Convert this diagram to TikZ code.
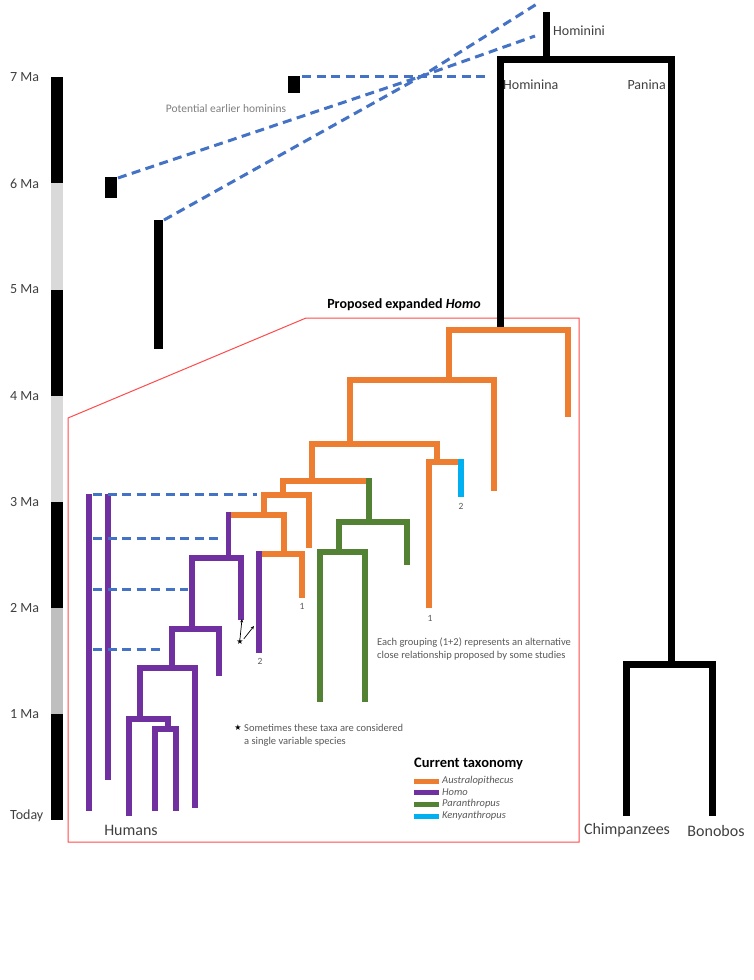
\documentclass[tikz,border=0pt]{standalone}
\usepackage{fontspec}
\setmainfont{Carlito}
\newfontfamily\symfont{DejaVu Sans}
\usetikzlibrary{arrows.meta}

\definecolor{australo}{HTML}{ED7D31}
\definecolor{homo}{HTML}{7030A0}
\definecolor{parantr}{HTML}{548235}
\definecolor{kenyan}{HTML}{00B0F0}
\definecolor{linkblue}{HTML}{4472C4}
\definecolor{boxred}{HTML}{FF4B4B}
\definecolor{textgray}{HTML}{404040}
\definecolor{notegray}{HTML}{595959}
\definecolor{lightbar}{HTML}{D9D9D9}
\definecolor{midbar}{HTML}{BFBFBF}

\begin{document}
\begin{tikzpicture}[x=1pt, y=-1pt,
    every node/.style={inner sep=0pt, text=textgray},
    tick/.style={anchor=west, font=\fontsize{14}{16}\selectfont},
    clade/.style={font=\fontsize{14}{16}\selectfont},
    tip/.style={font=\fontsize{16}{18}\selectfont},
    note/.style={font=\fontsize{10.5}{12.5}\selectfont, text=notegray, align=left},
    num/.style={font=\fontsize{9.5}{10}\selectfont, text=notegray},
    ape/.style={line width=7pt, line join=miter},
    branch/.style={line width=5.5pt, line join=miter},
    link/.style={draw=linkblue, line width=3pt, dash pattern=on 9pt off 5.5pt},
  ]
  \useasboundingbox[fill=white] (0,0) rectangle (754,980);

  % Шкала времени
  \foreach \t/\c in {7/black,6/lightbar,5/black,4/lightbar,3/black,2/midbar,1/black}
    \fill[\c] (51,{820-106.1*\t}) rectangle (63,{820-106.1*(\t-1)});
  \foreach \t in {1,...,7}
    \node[tick] (ma\t) at (10,{820-106.1*\t}) {\t\ Ma};
  \node[tick] (today) at (10,816) {Today};

  % Возможные ранние гоминины
  \fill (288,76) rectangle (300,93);
  \fill (105,177) rectangle (117,198);
  \fill (154,220) rectangle (163,349);
  \node[note, text=gray, font=\fontsize{11.5}{13}\selectfont] (early) at (226,109) {Potential earlier hominins};
  \coordinate (conv) at (422,76);
  \draw[link] (302,76) -- (conv) -- (490,76);
  \draw[link] (118,178) -- (conv) -- (535,36);
  \draw[link] (164,220) -- (conv) -- (540,2);

  % Рамка
  \draw[boxred, line width=1pt] (68,418) -- (306,318) -- (579,318) -- (579,842) -- (68,842) -- cycle;
  \node[font=\bfseries\fontsize{14}{16}\selectfont, text=black] (homo) at (404,305) {Proposed expanded \textit{Homo}};

  % Hominini
  \draw[ape] (546,12) -- (546,59);
  \draw[ape] (500,327) -- (500,59) -- (671,59) -- (671,664);
  \draw[ape] (626,816) -- (626,664) -- (712,664) -- (712,816);
  \node[clade, anchor=west] (hominini) at (553,31) {Hominini};
  \node[clade, anchor=west] (hominina) at (503,85) {Hominina};
  \node[clade, anchor=east] (panina) at (666,85) {Panina};
  \node[tip] (chimp) at (627,830) {Chimpanzees};
  \node[tip] (bonobo) at (716,831) {Bonobos};

  % Australopithecus
  \draw[branch, australo] (449,380) -- (449,330) -- (568,330) -- (568,417);
  \draw[branch, australo] (350,444) -- (350,380) -- (494,380) -- (494,491);
  \draw[branch, australo] (312,481) -- (312,444) -- (437,444) -- (437,462);
  \draw[branch, australo] (429,608) -- (429,462) -- (458.5,462);
  \draw[branch, australo] (283,495) -- (283,481) -- (366.5,481);
  \draw[branch, australo] (264,515) -- (264,495) -- (309,495) -- (309,548);
  \draw[branch, australo] (284,554) -- (284,515) -- (231,515);
  \draw[branch, australo] (261.5,554) -- (302,554) -- (302,598);

  % Kenyanthropus
  \draw[branch, kenyan] (461,459.25) -- (461,497);

  % Paranthropus
  \draw[branch, parantr] (369,478.25) -- (369,522);
  \draw[branch, parantr] (339,551) -- (339,522) -- (407,522) -- (407,565);
  \draw[branch, parantr] (320,702) -- (320,552) -- (365,552) -- (365,702);

  % Homo
  \draw[branch, homo] (228.5,512.25) -- (228.5,558);
  \draw[branch, homo] (259,551.25) -- (259,653);
  \draw[branch, homo] (192,629) -- (192,558) -- (241,558) -- (241,620);
  \draw[branch, homo] (172,668) -- (172,629) -- (219,629) -- (219,676);
  \draw[branch, homo] (140,719) -- (140,668) -- (195,668) -- (195,808);
  \draw[branch, homo] (129,816) -- (129,719) -- (168,719) -- (168,729);
  \draw[branch, homo] (155,811) -- (155,729) -- (176,729) -- (176,811);
  \draw[branch, homo] (89,494) -- (89,811);
  \draw[branch, homo] (108,494) -- (108,780);
  \node[tip] (humans) at (131,830) {Humans};

  % Связи по времени
  \draw[link] (93,494) -- (257,494);
  \draw[link] (93,538) -- (222,538);
  \draw[link] (93,589) -- (188,589);
  \draw[link] (93,649) -- (163,649);

  % Подписи групп
  \node[num] (g1a) at (302,606) {1};
  \node[num] (g1b) at (430,618) {1};
  \node[num] (g2a) at (461,506) {2};
  \node[num] (g2b) at (260,661) {2};
  \node[note, anchor=west] (grouping) at (377,649) {Each grouping (1+2) represents an alternative\\close relationship proposed by some studies};

  % Звёздочка
  \node[font=\symfont\fontsize{8}{9}\selectfont, text=black] (star) at (240,642) {★};
  \coordinate (tipA) at (242,619);
  \coordinate (tipB) at (254,626);
  \draw[-{Stealth[length=3.5pt, width=3pt]}, line width=0.7pt] (star.north) -- (tipA);
  \draw[-{Stealth[length=3.5pt, width=3pt]}, line width=0.7pt] (star.north east) -- (tipB);
  \node[font=\symfont\fontsize{8}{9}\selectfont, text=black] (star2) at (238,728) {★};
  \node[note, anchor=west] (variable) at (244,735) {Sometimes these taxa are considered\\a single variable species};

  % Легенда
  \node[font=\bfseries\fontsize{14.5}{16}\selectfont, text=black, anchor=west] (legend) at (414,764) {Current taxonomy};
  \foreach \y/\c/\n in {781/australo/Australopithecus, 792/homo/Homo, 804/parantr/Paranthropus, 816/kenyan/Kenyanthropus} {
    \fill[\c] (414,\y-2.5) rectangle (439,\y+2.5);
    \node[note, anchor=west, font=\itshape\fontsize{10.5}{12}\selectfont] (leg\n) at (442,\y) {\n};
  }
\end{tikzpicture}
\end{document}
